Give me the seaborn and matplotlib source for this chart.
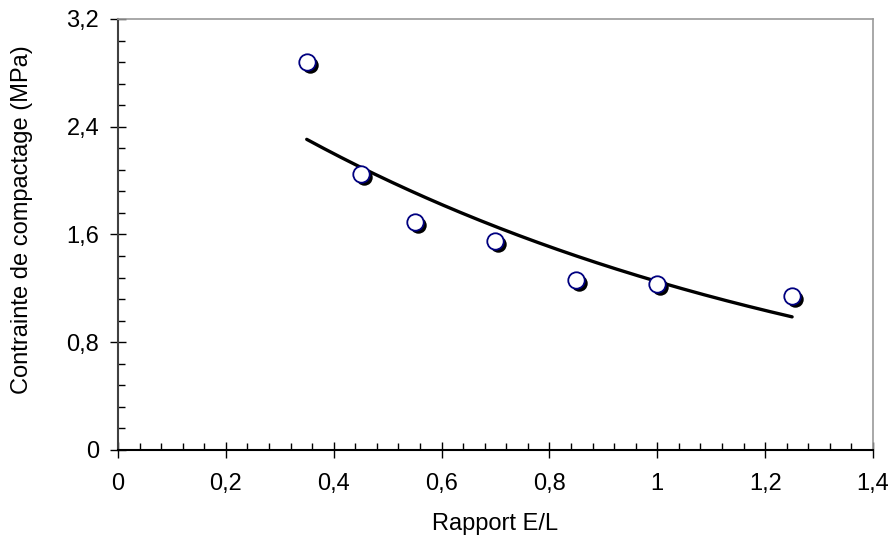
import numpy as np
import pandas as pd
import matplotlib
matplotlib.use('Agg')
import matplotlib.pyplot as plt
from matplotlib.ticker import MultipleLocator, FuncFormatter
from matplotlib.transforms import offset_copy
import seaborn as sns

# Data
ratio_el = [0.35, 0.45, 0.55, 0.70, 0.85, 1.00, 1.25]
contrainte = [2.88, 2.05, 1.69, 1.55, 1.26, 1.23, 1.14]

x_label = "Rapport E/L"
y_label = "Contrainte de compactage (MPa)"

df = pd.DataFrame({"x": ratio_el, "y": contrainte})

# Exponential trendline (least squares on log y), like a spreadsheet trendline
b, log_a = np.polyfit(df["x"], np.log(df["y"]), 1)
x_fit = np.linspace(df["x"].min(), df["x"].max(), 200)
fit = pd.DataFrame({"x": x_fit, "y": np.exp(log_a) * np.exp(b * x_fit)})

sns.set_theme(style="white")
plt.rcParams['font.family'] = ['Liberation Sans', 'DejaVu Sans']
plt.rcParams.update({'text.color': 'black', 'axes.labelcolor': 'black',
                     'xtick.color': 'black', 'ytick.color': 'black'})

fig = plt.figure(figsize=(8.91, 5.38), dpi=100)
ax = fig.add_axes([0.1324, 0.1636, 0.8474, 0.8011])

# trendline
sns.lineplot(data=fit, x="x", y="y", ax=ax, color="black", linewidth=2.4,
             zorder=2)

# shadow of the markers, shifted down-right
sns.scatterplot(data=df, x="x", y="y", ax=ax, color="black", s=140,
                edgecolor="black", linewidth=0, zorder=3)
shadow = ax.collections[-1]
shadow.set_offset_transform(offset_copy(ax.transData, fig=fig, x=3, y=-3,
                                        units='dots'))

# markers
sns.scatterplot(data=df, x="x", y="y", ax=ax, color="white", s=140,
                edgecolor="#000080", linewidth=1.3, zorder=4)

ax.set_xlim(0, 1.4)
ax.set_ylim(0, 3.2)
ax.xaxis.set_major_locator(MultipleLocator(0.2))
ax.xaxis.set_minor_locator(MultipleLocator(0.04))
ax.yaxis.set_major_locator(MultipleLocator(0.8))
ax.yaxis.set_minor_locator(MultipleLocator(0.16))

comma = FuncFormatter(lambda v, pos: f"{v:.10g}".replace('.', ','))
ax.xaxis.set_major_formatter(comma)
ax.yaxis.set_major_formatter(comma)

ax.tick_params(which='major', direction='inout', length=11, width=1,
               color='black', labelcolor='black', labelsize=17,
               left=True, bottom=True)
ax.tick_params(axis='x', which='major', pad=11)
ax.tick_params(axis='y', which='major', pad=8)
ax.tick_params(which='minor', direction='in', length=5, width=1,
               color='black', left=True, bottom=True)

for side in ['top', 'right']:
    ax.spines[side].set_color('#9a9a9a')
    ax.spines[side].set_linewidth(1.2)
ax.spines['left'].set_color('#404040')
ax.spines['left'].set_linewidth(1.5)
ax.spines['bottom'].set_color('black')
ax.spines['bottom'].set_linewidth(1.5)

ax.set_xlabel(x_label, fontsize=17, labelpad=13, color='black')
ax.set_ylabel(y_label, fontsize=17, labelpad=5, color='black')
ax.yaxis.set_label_coords(-0.112, 0.535)

fig.savefig("out.png", dpi=100)
